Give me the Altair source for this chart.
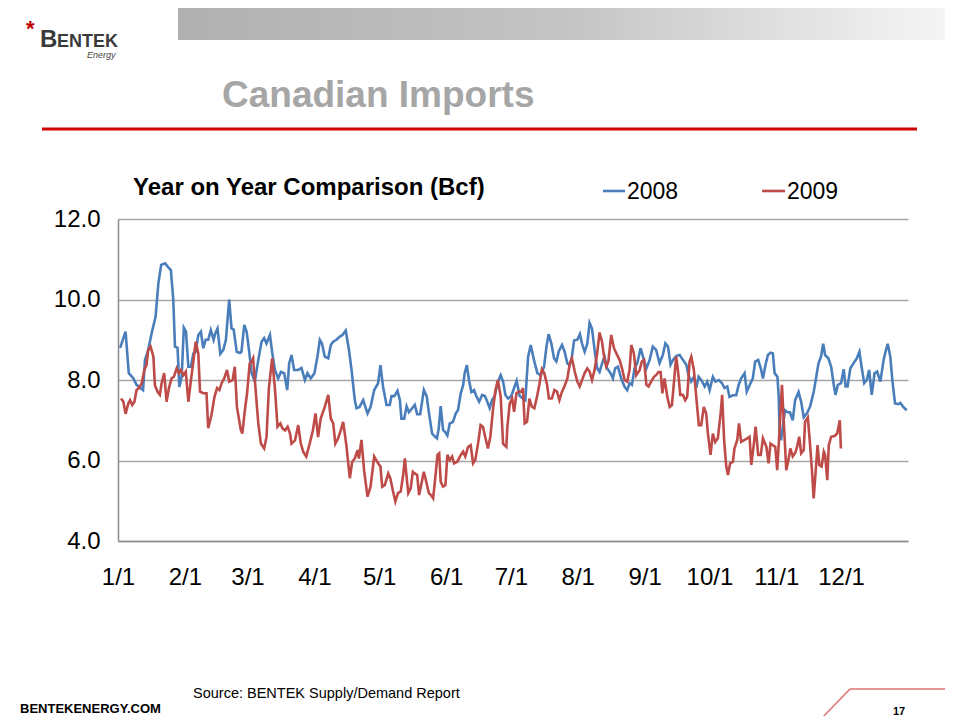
import altair as alt
import pandas as pd

# ---------------- data ----------------
days_2008 = [1, 3.5, 5, 7, 8.6, 11.6, 12.5, 14, 15.6, 17.4, 18.7, 20, 21.8, 23.3, 24.5, 25.6, 26.4, 27.6, 28.4, 29.5,
             30.5, 31.5, 32.6, 33.8, 34.9, 36, 37.2, 38.4, 39.5, 40.6, 41.8, 43, 44.3, 45, 46.1, 47.4, 48.8, 50, 51.5,
             52.6, 53.6, 55, 56.5, 57.2, 58.5, 59.6, 60.8, 61.9, 63.4, 65, 66.5, 67.7, 68.8, 70.4, 71.4, 72.7, 74.2,
             75.5, 77, 78.4, 79.3, 80.4, 81.6, 83.5, 85, 86.6, 87.8, 89.3, 91, 92.4, 93.5, 94.5, 95.8, 97.4, 98.6,
             99.7, 101.2, 102.8, 104, 105.5, 107, 108.2, 109.7, 110.5, 111.9, 113.6, 115.6, 117, 118.7, 120.5, 121.6,
             122.8, 124.4, 125.9, 126.7, 128, 129.5, 130.6, 131.3, 132.6, 133.7, 134.8, 136, 137.5, 138.6, 140, 141.7,
             143, 144.1, 145.5, 146.7, 147.8, 148.6, 149.5, 150.6, 151.7, 152.6, 153.7, 155.2, 156.5, 157.5, 158.8,
             159.9, 160.6, 161.6, 162.6, 163.7, 165, 166, 167.3, 168.7, 170, 171.1, 172.2, 173.3, 174.5, 176, 177.3,
             178.4, 179.5, 180.7, 182.2, 183.5, 184.7, 186.1, 187.6, 188.7, 190, 191.2, 192.7, 194.3, 195.8, 197.4,
             198.5, 199.5, 200.8, 202, 203.1, 204.2, 205.7, 206.9, 208.2, 209.3, 210.3, 211.3, 212.8, 214, 215, 216.2,
             217.4, 218.5, 219.6, 220.8, 222, 223.1, 224.2, 225.4, 226.6, 228.2, 229.3, 230.3, 231.6, 233.1, 234.7,
             235.9, 237, 238.1, 239.3, 240.6, 242.1, 243.2, 244.8, 246.3, 247.8, 249.3, 250.9, 252.4, 253.6, 254.8,
             256, 257.1, 258.7, 260.2, 261.7, 263.3, 264.3, 265.5, 266.8, 267.9, 269, 270.2, 271.8, 273, 274.1, 275.6,
             276.8, 278.4, 279.8, 281, 282.3, 283.3, 284.9, 286.4, 287.5, 288.7, 290.3, 291.3, 292.6, 294.1, 295.2,
             296.6, 297.8, 298.8, 300, 301.1, 302.3, 303.4, 304.2, 305.5, 306.1, 306.5, 307.2, 309, 310.2, 311.3,
             312.6, 313.7, 315.3, 316.5, 317.7, 319.2, 320.7, 322.3, 323.5, 324.5, 325.7, 326.7, 327.6, 329.1, 330.4,
             331.5, 332.4, 333.5, 335, 336.2, 337.1, 338, 339.3, 340.8, 342.3, 343.5, 344.5, 345.7, 346.9, 348, 349.2,
             350.5, 351.7, 353.2, 354.7, 355.8, 356.6, 357.8, 358.8, 360, 361.5, 362.5, 363.8, 365.4]
vals_2008 = [8.8, 9.2, 8.17, 8.05, 7.88, 7.75, 8.5, 8.75, 9.17, 9.57, 10.4, 10.86, 10.9, 10.8, 10.73, 10.0, 8.83, 8.8,
             7.83, 8.08, 9.3, 9.2, 8.33, 8.33, 8.66, 8.7, 9.12, 9.2, 8.79, 9.0, 9.0, 9.24, 9.0, 9.15, 9.28, 8.65, 8.75,
             9.0, 10.0, 9.28, 9.25, 8.7, 8.67, 8.7, 9.37, 9.2, 8.7, 8.17, 7.96, 8.5, 8.95, 9.04, 8.91, 9.12, 8.7, 8.25,
             8.04, 8.2, 8.17, 7.75, 8.41, 8.62, 8.25, 8.25, 8.3, 8.0, 8.17, 8.04, 8.17, 8.58, 9.0, 8.91, 8.58, 8.54,
             8.87, 8.95, 9.0, 9.08, 9.12, 9.23, 8.75, 8.25, 7.5, 7.3, 7.33, 7.5, 7.17, 7.33, 7.75, 7.92, 8.37, 7.83,
             7.38, 7.38, 7.6, 7.6, 7.73, 7.5, 7.04, 7.04, 7.35, 7.2, 7.28, 7.38, 7.15, 7.15, 7.75, 7.6, 7.17, 6.67,
             6.6, 6.55, 6.8, 7.35, 6.76, 6.7, 6.62, 6.92, 6.96, 7.17, 7.25, 7.67, 7.87, 8.17, 8.37, 8.0, 7.7, 7.75,
             7.6, 7.46, 7.63, 7.6, 7.46, 7.3, 7.5, 7.6, 7.96, 8.12, 7.96, 7.63, 7.54, 7.6, 7.8, 7.98, 7.6, 7.54, 7.5,
             8.58, 8.87, 8.5, 8.17, 8.12, 8.33, 8.83, 9.14, 8.9, 8.54, 8.46, 8.71, 8.87, 8.71, 8.41, 8.37, 8.58, 8.98,
             9.0, 9.14, 8.9, 8.7, 8.9, 9.42, 9.28, 8.75, 8.29, 8.2, 8.4, 8.58, 8.29, 8.17, 8.04, 8.29, 8.33, 8.04,
             7.83, 7.75, 7.92, 7.88, 8.29, 8.42, 8.79, 8.58, 8.29, 8.5, 8.83, 8.75, 8.42, 8.62, 8.91, 8.83, 8.38, 8.5,
             8.6, 8.62, 8.5, 8.38, 8.12, 7.96, 8.08, 7.8, 8.08, 8.0, 7.84, 7.96, 7.75, 8.08, 7.96, 8.0, 7.92, 7.8,
             7.84, 7.58, 7.62, 7.62, 7.87, 8.04, 8.17, 7.71, 7.87, 8.04, 8.46, 8.5, 8.29, 8.04, 8.38, 8.62, 8.68,
             8.66, 8.17, 8.08, 7.58, 6.76, 6.5, 7.25, 7.2, 7.2, 7.0, 7.5, 7.7, 7.46, 7.07, 7.17, 7.35, 7.7, 8.08,
             8.41, 8.58, 8.9, 8.62, 8.54, 8.33, 7.92, 7.63, 7.88, 7.92, 8.27, 7.84, 7.84, 8.29, 8.42, 8.54, 8.7,
             8.33, 7.92, 8.0, 8.25, 7.63, 8.17, 8.21, 7.96, 8.5, 8.75, 8.9, 8.58, 7.96, 7.42, 7.4, 7.43, 7.33, 7.25]

days_2009 = [1.4, 2.5, 3.5, 4.8, 5.6, 6.6, 7.6, 8.6, 9.7, 11, 12.2, 13.2, 14, 15.1, 16.4, 17.1, 18.4, 19.4, 20.2, 21.4,
             22.5, 23.6, 24.8, 25.9, 27.2, 28.2, 29.2, 30.3, 31.4, 32.6, 33.8, 34.9, 36, 37.2, 38, 39.5, 41, 41.8,
             43.3, 44.7, 45.9, 47, 48, 49.2, 50.5, 51.5, 53.1, 54.1, 55.1, 56.9, 57.6, 58.6, 59.8, 61, 61.9, 62.6,
             63.7, 65, 66.2, 67.7, 68.8, 69.9, 71.4, 72.7, 73.9, 75.2, 76.2, 77.4, 78.6, 79.7, 80.4, 82, 83.5, 84.7,
             85.8, 87.2, 88.8, 90.3, 91.5, 92.7, 93.9, 95.8, 97.4, 98.6, 99.7, 100.7, 101.9, 103.2, 104.3, 105.8,
             107.4, 108.5, 109.7, 111, 111.6, 112.8, 114, 115.6, 117, 118.7, 120.5, 121.6, 122.4, 123.6, 125.2, 126.2,
             127.3, 128.5, 129.7, 131, 132.2, 132.9, 133.7, 134.5, 135.6, 136.6, 137.5, 138.6, 139.5, 140.6, 141.7,
             143, 144, 145, 146, 147.2, 148, 148.8, 149.5, 150.6, 151.7, 152.6, 153.7, 154.8, 155.7, 157.2, 158.8,
             159.9, 160.9, 162.2, 163.4, 164.5, 165.5, 166.8, 168, 169.1, 170.1, 171.4, 172.5, 173.8, 174.9, 176,
             177.3, 178.4, 179.9, 180.4, 181.5, 182.6, 183.5, 184.6, 185.6, 186.9, 187.6, 188.4, 189.5, 190.6, 191.7,
             192.9, 194.1, 195.2, 196.4, 197.5, 198.8, 199.6, 201, 202.2, 203.4, 204.5, 205.7, 206.9, 208.2, 209.3,
             210.3, 211.6, 212.8, 213.9, 215, 216.2, 217.4, 218.5, 219.6, 220.8, 222, 223.1, 224.2, 225.4, 226.2,
             227.2, 228.5, 229.8, 230.9, 232.4, 233.5, 234.7, 235.9, 237, 237.8, 239, 240.1, 241.7, 242.7, 243.7,
             244.8, 245.8, 247, 248.3, 249.3, 250.4, 251.4, 252.2, 253.2, 254.5, 255.6, 256.6, 257.6, 258.6, 259.4,
             260.5, 261.7, 262.8, 263.7, 264.8, 265.6, 266.8, 267.9, 269.1, 270.2, 271.4, 272.5, 273.3, 274.5, 275.6,
             276.7, 277.9, 279.2, 279.9, 280.8, 281.8, 282.6, 283.6, 284.9, 285.6, 286.9, 287.7, 288.7, 290.3, 291.5,
             292.6, 293.4, 294.6, 295.4, 296.6, 297.8, 298.8, 300.4, 301.4, 302.3, 303.4, 304.5, 305.4, 306.5, 307.6,
             308.5, 309.6, 310.6, 311.5, 312.6, 313.7, 314.6, 315.6, 316.5, 317.7, 318.3, 319.6, 320.7, 321.5, 322.3,
             323.5, 324.1, 324.9, 326, 327, 327.6, 328.6, 329.3, 330.4, 332, 333.2, 334.4, 334.9]
vals_2009 = [7.54, 7.46, 7.16, 7.42, 7.5, 7.38, 7.46, 7.75, 7.8, 7.92, 8.25, 8.37, 8.75, 8.83, 8.58, 7.87, 7.7, 7.63,
             7.92, 8.17, 7.46, 7.8, 8.04, 8.08, 8.29, 8.17, 8.25, 8.12, 8.21, 7.46, 8.0, 8.46, 8.95, 8.66, 7.71, 7.67,
             7.67, 6.8, 7.13, 7.58, 7.8, 7.75, 7.92, 8.04, 8.25, 7.96, 8.0, 8.33, 7.33, 6.76, 6.67, 7.17, 7.67, 8.41,
             8.46, 8.54, 7.79, 6.92, 6.42, 6.3, 6.58, 7.79, 8.54, 7.79, 6.84, 6.92, 6.8, 6.75, 6.84, 6.67, 6.42, 6.5,
             6.88, 6.42, 6.22, 6.1, 6.42, 6.75, 7.17, 6.58, 7.04, 7.33, 7.63, 7.04, 6.92, 6.42, 6.54, 6.75, 6.96,
             6.38, 5.56, 5.97, 6.05, 6.26, 6.05, 6.51, 5.76, 5.1, 5.35, 6.1, 5.93, 5.85, 5.35, 5.39, 5.68, 5.55,
             5.26, 4.98, 5.19, 5.23, 5.68, 6.05, 5.6, 5.19, 5.31, 5.72, 5.68, 5.64, 5.14, 5.43, 5.72, 5.43, 5.19,
             5.14, 5.06, 5.68, 6.14, 6.18, 5.47, 5.35, 5.39, 6.14, 6.01, 6.1, 5.93, 5.97, 6.14, 6.22, 6.1, 6.34,
             6.38, 5.93, 6.01, 6.42, 6.88, 6.84, 6.59, 6.3, 6.59, 7.3, 7.75, 8.0, 7.58, 6.42, 6.34, 6.84, 7.42,
             7.54, 7.21, 7.67, 7.71, 7.71, 7.8, 6.92, 6.96, 7.54, 7.34, 7.3, 7.58, 7.88, 8.27, 8.17, 7.88, 7.54,
             7.54, 7.75, 7.71, 7.5, 7.71, 7.85, 8.04, 8.41, 8.54, 8.21, 7.96, 7.84, 8.0, 8.17, 8.29, 8.21, 8.0,
             8.25, 8.66, 9.18, 8.96, 8.5, 8.33, 8.46, 9.12, 8.79, 8.66, 8.5, 8.29, 8.0, 7.96, 8.25, 8.87, 8.66,
             8.12, 8.25, 8.46, 8.5, 7.88, 7.84, 7.96, 8.08, 8.12, 8.2, 8.2, 7.67, 8.04, 7.58, 7.33, 7.37, 7.96,
             8.58, 8.25, 7.63, 7.63, 7.5, 7.58, 8.46, 8.58, 8.25, 7.58, 6.88, 6.88, 7.33, 7.17, 6.67, 6.14, 6.67,
             6.46, 6.55, 7.17, 7.63, 6.51, 5.85, 5.64, 5.93, 5.97, 6.3, 6.51, 6.92, 6.46, 6.51, 6.55, 6.59, 5.89,
             6.42, 6.84, 6.14, 6.14, 6.55, 6.34, 5.93, 6.42, 6.38, 6.34, 5.76, 6.75, 7.88, 6.92, 5.76, 6.01, 6.3,
             6.1, 6.18, 6.34, 6.59, 6.18, 6.26, 6.96, 7.07, 6.34, 5.76, 5.06, 5.93, 6.38, 5.89, 5.85, 6.22, 6.14,
             5.51, 6.38, 6.59, 6.61, 6.67, 7.0, 6.3]

series_names = ["2008", "2009"]
series_colors = ["#4A7EBB", "#BE4B48"]
month_days = [0, 31, 60, 91, 121, 152, 182, 213, 244, 274, 305, 335]
month_labels = ["1/1", "2/1", "3/1", "4/1", "5/1", "6/1", "7/1", "8/1", "9/1", "10/1", "11/1", "12/1"]
y_ticks = [4, 6, 8, 10, 12]

FONT = "Liberation Sans"

df = pd.concat([
    pd.DataFrame({"day": days_2008, "value": vals_2008, "year": "2008"}),
    pd.DataFrame({"day": days_2009, "value": vals_2009, "year": "2009"}),
])

label_expr = "{}[indexof({}, datum.value)]".format(
    "[" + ",".join("'%s'" % s for s in month_labels) + "]",
    "[" + ",".join(str(d) for d in month_days) + "]",
)

one = pd.DataFrame({"k": [0]})

lines = alt.Chart(df).mark_line(strokeWidth=2.6).encode(
    x=alt.X("day:Q", scale=alt.Scale(domain=[0, 366], nice=False, zero=False),
            axis=alt.Axis(values=month_days, labelExpr=label_expr, title=None, grid=False,
                          ticks=False, domainColor="#8C8C8C", domainWidth=1.5,
                          labelFontSize=24, labelFont=FONT, labelColor="#000000",
                          labelPadding=24, labelFlush=False, labelOverlap=False)),
    y=alt.Y("value:Q", scale=alt.Scale(domain=[4, 12], nice=False, zero=False),
            axis=alt.Axis(values=y_ticks, format=".1f", title=None, grid=True,
                          gridColor="#A6A6A6", gridWidth=1.3, ticks=False,
                          domainColor="#8C8C8C", domainWidth=1.5,
                          labelFontSize=24, labelFont=FONT, labelColor="#000000",
                          labelPadding=18)),
    color=alt.Color("year:N", scale=alt.Scale(domain=series_names, range=series_colors), legend=None),
    detail="year:N",
)


def txt(s, x, y, size, bold=False, color="#000000", align="left", italic=False):
    return alt.Chart(one).mark_text(
        text=s, font=FONT, fontSize=size, fontWeight="bold" if bold else "normal",
        fontStyle="italic" if italic else "normal", color=color, align=align,
        baseline="alphabetic",
    ).encode(x=alt.value(x), y=alt.value(y))


def rule(x1, y1, x2, y2, color, width):
    return alt.Chart(one).mark_rule(color=color, strokeWidth=width).encode(
        x=alt.value(x1), y=alt.value(y1), x2=alt.value(x2), y2=alt.value(y2))


OX, OY = 118, 219  # plot origin in page pixels


def px(x):
    return x - OX


def py(y):
    return y - OY


banner = alt.Chart(one).mark_rect(
    color=alt.Gradient(gradient="linear", x1=0, x2=1, y1=0, y2=0,
                       stops=[alt.GradientStop(color="#B0B0B0", offset=0),
                              alt.GradientStop(color="#C4C4C4", offset=0.5),
                              alt.GradientStop(color="#F6F6F6", offset=1)])
).encode(x=alt.value(px(178)), x2=alt.value(px(953)), y=alt.value(py(8)), y2=alt.value(py(40)))

layers = [
    banner,
    txt("B", px(40), py(47), 24, bold=True, color="#3A3A3A"),
    txt("ENTEK", px(57), py(47), 18, bold=True, color="#3A3A3A"),
    txt("Energy", px(87), py(58), 9, italic=True, color="#444444"),
    txt("*", px(26), py(36), 22, bold=True, color="#C00000"),
    txt("Canadian Imports", px(222), py(107), 37, bold=True, color="#A6A6A6"),
    rule(px(42), py(129), px(917), py(129), "#D00000", 3),
    txt("Year on Year Comparison (Bcf)", px(133), py(195), 24, bold=True),
    rule(px(603), py(191), px(625), py(191), series_colors[0], 2.6),
    txt(series_names[0], px(627), py(199), 23),
    rule(px(762), py(191), px(785), py(191), series_colors[1], 2.6),
    txt(series_names[1], px(787), py(199), 23),
    lines,
    txt("Source: BENTEK Supply/Demand Report", px(193), py(698), 14.5),
    txt("BENTEKENERGY.COM", px(20), py(713), 13, bold=True),
    txt("17", px(893), py(715), 11, bold=True),
    rule(px(822), py(718), px(850), py(689), "#E07070", 1.5),
    rule(px(850), py(689), px(945), py(689), "#E07070", 1.5),
]

chart = alt.layer(*layers).properties(
    width=790, height=322,
    autosize=alt.AutoSizeParams(type="none"),
    padding={"left": 110, "top": 211, "right": 37, "bottom": 175},
).configure_view(strokeWidth=0)

chart.save("out.html", embed_options={"renderer": "svg", "actions": False})
